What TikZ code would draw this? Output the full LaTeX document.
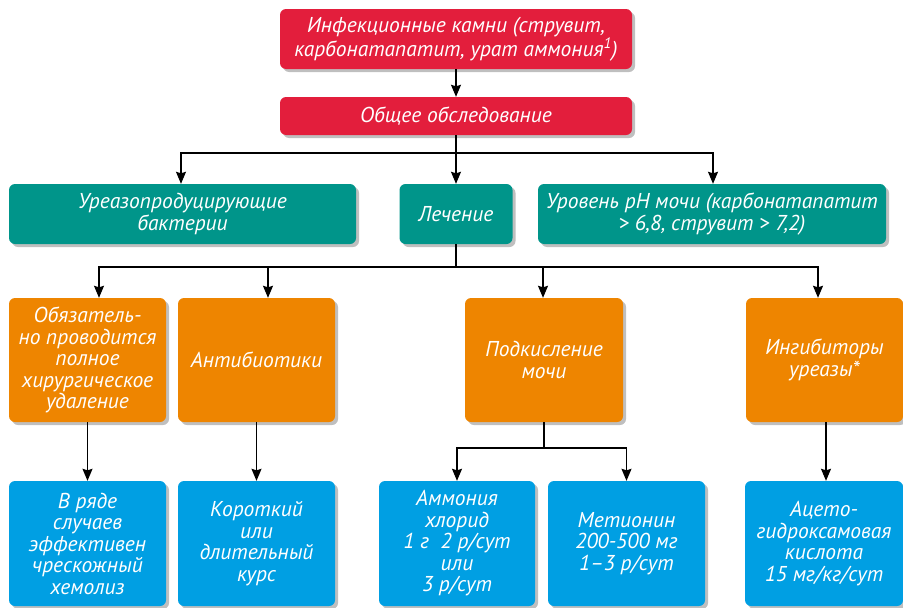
\documentclass[tikz,border=0pt]{standalone}
\usepackage{fontspec}
\setmainfont{PT Sans}
\usepackage{tikz}
\usetikzlibrary{arrows.meta,shadows}

\definecolor{kRed}{HTML}{E31E3C}
\definecolor{kTeal}{HTML}{00958A}
\definecolor{kOrange}{HTML}{EE8500}
\definecolor{kBlue}{HTML}{009FE3}

\tikzset{
    box/.style={rounded corners=6pt, text=white, align=center, inner sep=0pt,
        font=\itshape\fontsize{21.5}{21.5}\selectfont,
        drop shadow={shadow xshift=3pt, shadow yshift=-3pt, fill=black, opacity=0.25}},
    redbox/.style={box, fill=kRed, minimum width=352},
    tealbox/.style={box, fill=kTeal, minimum height=60},
    orangebox/.style={box, fill=kOrange, minimum width=157, minimum height=124},
    bluebox/.style={box, fill=kBlue, minimum width=157, minimum height=125},
    ln/.style={line width=1.2pt},
    arr/.style={ln, -{Stealth[length=12pt,width=10pt,inset=1.5pt]}}
}

\begin{document}
\begin{tikzpicture}[x=1pt,y=-1pt]

    \useasboundingbox (0,0) rectangle (903,608);

    \node[redbox, minimum height=60] (kamni) at (456,39)
    {Инфекционные камни (струвит,\\ карбонатапатит, урат аммония\textsuperscript{1})};
    \node[redbox, minimum height=38] (obsled) at (456,116) {Общее обследование};

    \node[tealbox, minimum width=347] (bakt) at (182.5,214) {Уреазопродуцирующие\\ бактерии};
    \node[tealbox, minimum width=113] (lech) at (456,214) {Лечение};
    \node[tealbox, minimum width=348] (ph) at (712,214)
    {Уровень pH мочи (карбонатапатит\\ > 6,8, струвит > 7,2)};

    \node[orangebox] (operac) at (87.5,360)
    {Обязатель-\\ но проводится\\ полное\\ хирургическое\\ удаление};
    \node[orangebox] (antib) at (256.5,360) {Антибиотики};
    \node[orangebox, minimum width=158] (podkisl) at (544,360) {Подкисление\\ мочи};
    \node[orangebox] (ingib) at (824.5,360) {Ингибиторы\\ уреазы*};

    \node[bluebox] (hemoliz) at (87.5,543.5)
    {В ряде\\ случаев\\ эффективен\\ чрескожный\\ хемолиз};
    \node[bluebox] (kurs) at (256.5,543.5) {Короткий\\ или\\ длительный\\ курс};
    \node[bluebox, minimum width=156] (hlorid) at (457,543.5)
    {Аммония\\ хлорид\\ 1 г\ \ 2 р/сут\\ или\\ 3 р/сут};
    \node[bluebox] (metion) at (626.5,543.5) {Метионин\\ 200-500 мг\\ 1–3 р/сут};
    \node[bluebox, minimum width=158] (aha) at (824,543.5)
    {Ацето-\\ гидроксамовая\\ кислота\\ 15 мг/кг/сут};

    % connectors
    \draw[arr] (kamni) -- (obsled);

    \coordinate (f1) at (456,153);
    \draw[ln] (obsled) -- (f1);
    \draw[arr] (f1) -| ([xshift=-1.5pt]bakt.north);
    \draw[arr] (f1) -- (lech);
    \draw[arr] (f1) -| ([xshift=1pt]ph.north);

    \coordinate (f2) at (456,267);
    \draw[ln] (lech) -- (f2);
    \draw[arr] (f2) -| ([xshift=11.5pt]operac.north);
    \draw[arr] (f2) -| ([xshift=11.5pt]antib.north);
    \draw[arr] (f2) -| ([xshift=-1pt]podkisl.north);
    \draw[arr] (f2) -| ([xshift=-6.5pt]ingib.north);

    \draw[arr] (operac) -- (hemoliz);
    \draw[arr] (antib) -- (kurs);
    \coordinate (f3) at (544,448);
    \draw[ln] (podkisl) -- (f3);
    \draw[arr] (f3) -| (hlorid.north);
    \draw[arr] (f3) -| (metion.north);
    \draw[arr] ([xshift=1.5pt]ingib.south) -- ([xshift=2pt]aha.north);

\end{tikzpicture}
\end{document}
